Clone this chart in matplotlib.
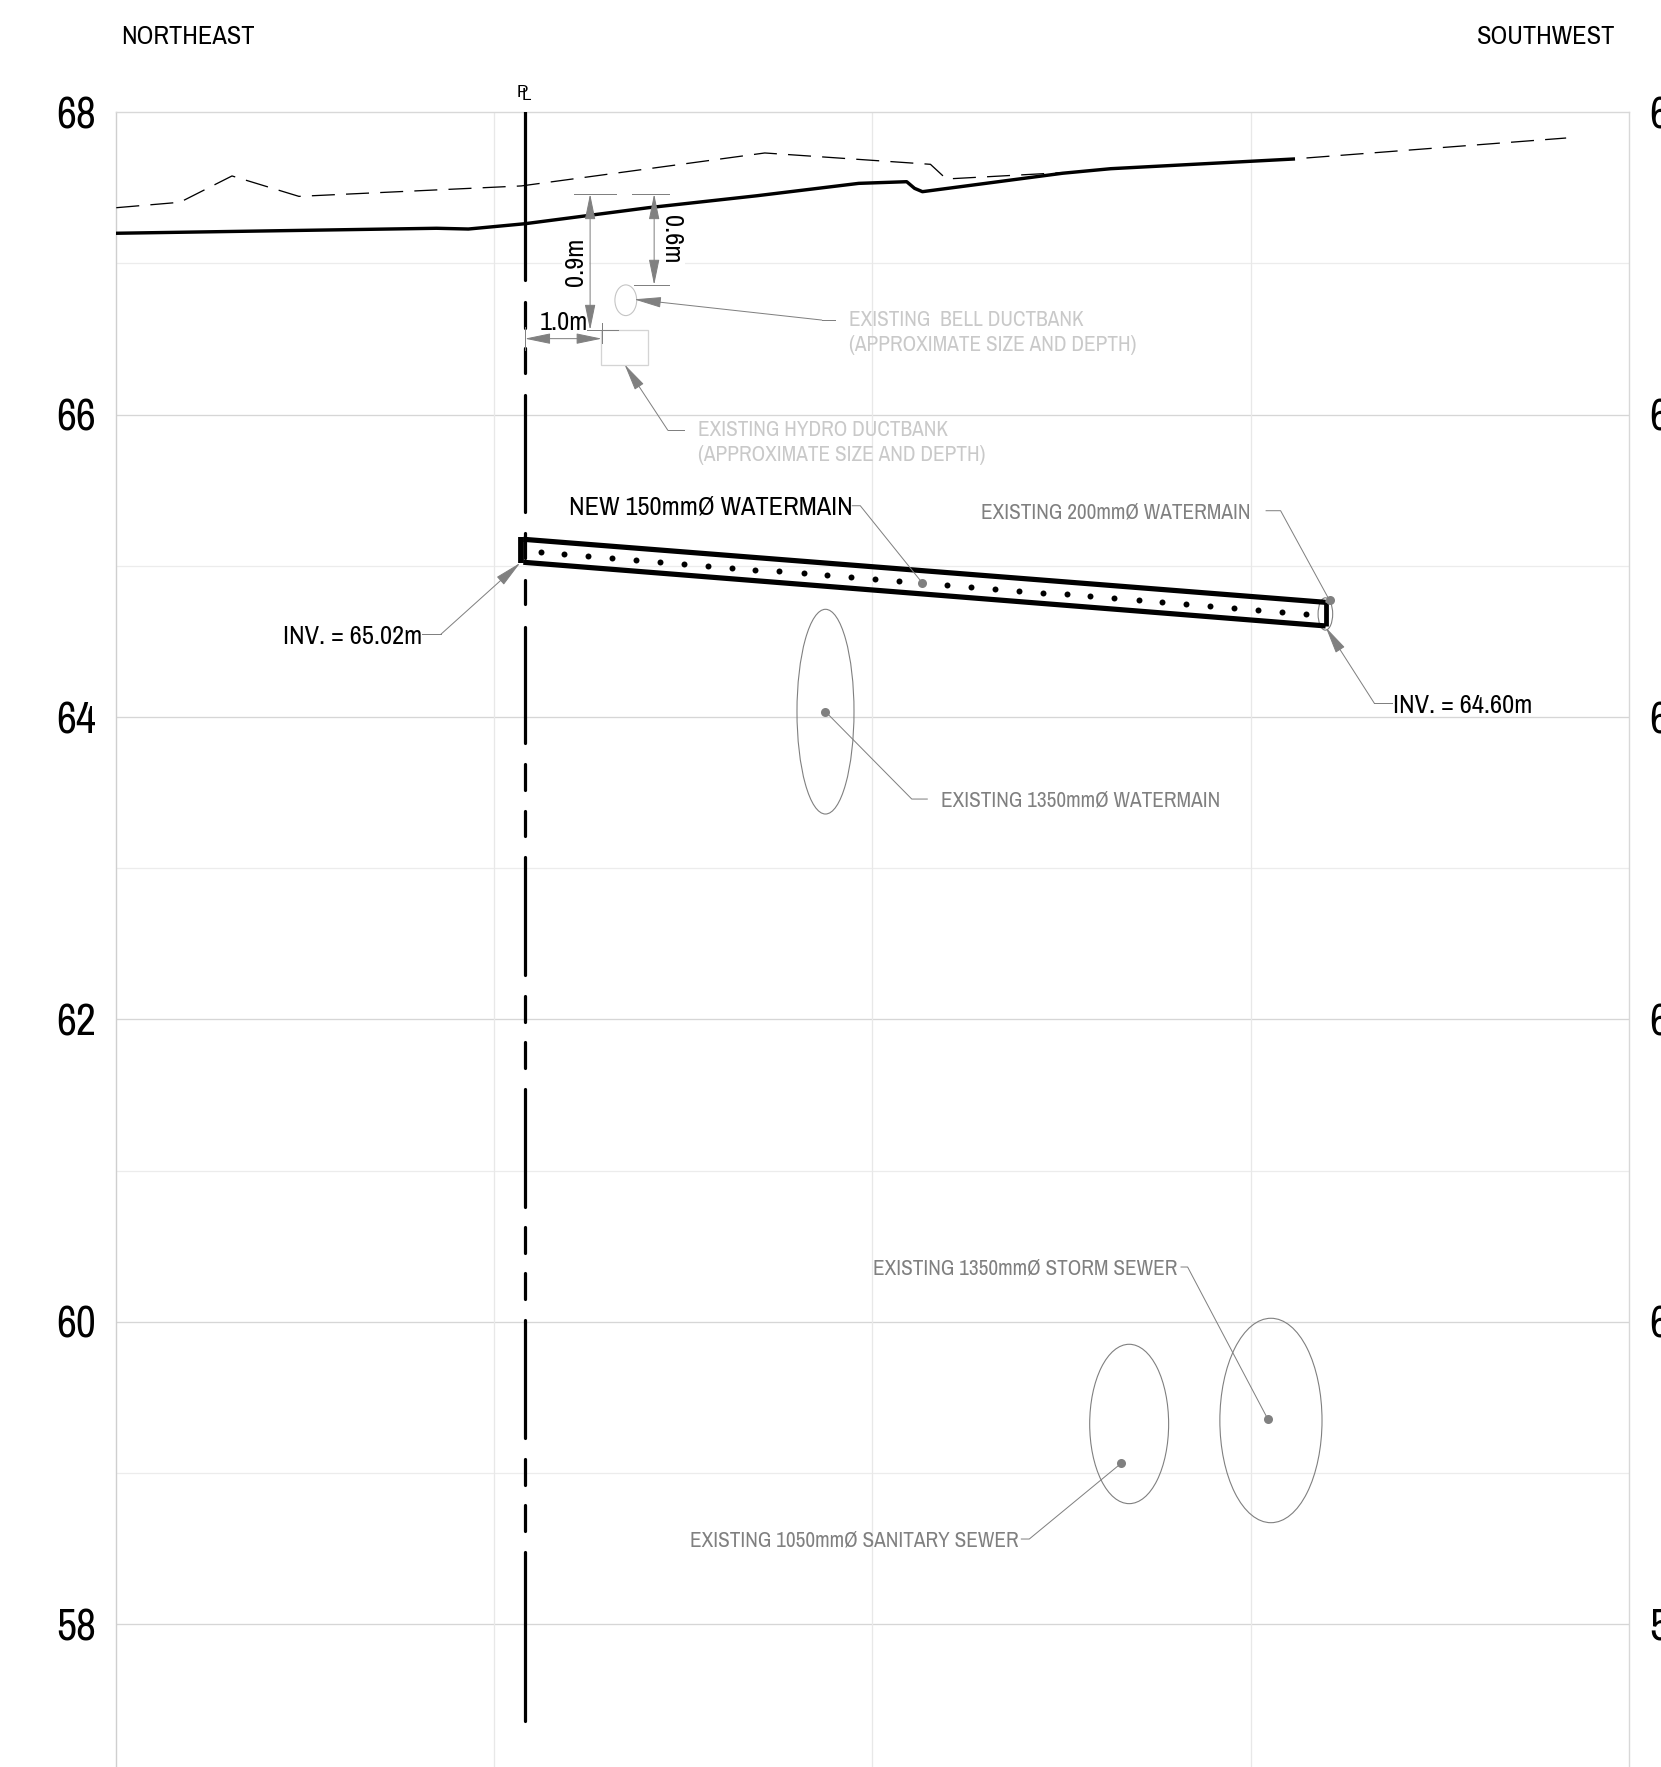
import matplotlib
matplotlib.use("Agg")
import matplotlib.pyplot as plt
from matplotlib.patches import Ellipse, Rectangle

plt.rcParams['font.family'] = ['Archivo Narrow', 'Liberation Sans', 'DejaVu Sans']

W, H, DPI = 1661, 1767, 100
px = 72 / DPI

# ---- data (station in metres, elevation in metres) ----
elev_ticks = [68, 66, 64, 62, 60, 58]
elev_minor = [67, 65, 63, 61, 59]
stations = [5, 10, 15]
PL_X = 5.403

ground_x = [0, 4.236, 4.656, 5.403, 7.036, 8.470, 9.819, 10.453, 10.557, 10.661, 12.516, 13.151, 15.566]
ground_y = [67.20, 67.233, 67.228, 67.263, 67.369, 67.448, 67.530, 67.541, 67.497, 67.475, 67.597, 67.627, 67.691]
exist_x = [0, 0.842, 1.530, 2.415, 5.356, 8.576, 10.767, 10.977, 12.516]
exist_y = [67.369, 67.405, 67.579, 67.444, 67.513, 67.731, 67.656, 67.559, 67.601]
exist_east_x = [15.74, 19.174]
exist_east_y = [67.698, 67.830]

pl_segments = [(68.015, 66.891), (66.745, 66.574), (66.441, 66.276), (66.130, 65.356),
               (65.218, 65.052), (64.907, 64.748), (64.596, 63.827), (63.688, 63.518),
               (63.379, 63.212), (63.073, 62.292), (62.155, 61.985), (61.849, 61.681),
               (61.542, 60.762), (60.626, 60.454), (60.321, 60.150), (60.013, 59.230),
               (59.094, 58.922), (58.787, 58.617), (58.478, 57.360)]

pipe_x = [5.383, 15.993]
pipe_top = [65.176, 64.759]
pipe_inv = [65.024, 64.603]
pipe_center_x = [5.61, 5.92, 6.24, 6.56, 6.87, 7.19, 7.51, 7.82, 8.14, 8.45, 8.77, 9.09, 9.40, 9.72, 10.04, 10.35,
                 10.99, 11.30, 11.62, 11.94, 12.25, 12.57, 12.88, 13.20, 13.52, 13.83, 14.15, 14.47, 14.78, 15.10,
                 15.42, 15.73]
pipe_center_y = [65.090, 65.077, 65.065, 65.052, 65.039, 65.027, 65.014, 65.001, 64.988, 64.976, 64.963, 64.950,
                 64.938, 64.925, 64.912, 64.900, 64.874, 64.862, 64.849, 64.836, 64.824, 64.811, 64.798, 64.785,
                 64.773, 64.760, 64.747, 64.735, 64.722, 64.709, 64.697, 64.684]

# existing pipes: centre x, centre y, width, height
pipes = [(9.379, 64.036, 0.754, 1.354),
         (15.99, 64.682, 0.193, 0.214),
         (15.27, 59.348, 1.351, 1.352),
         (13.395, 59.325, 1.044, 1.054)]
bell = (6.738, 66.757, 0.288, 0.203)
hydro = (6.413, 66.329, 0.617, 0.229)

# leaders ending in a dot
dot_leaders = [
    ([14.081, 14.168, 15.23], [60.363, 60.363, 59.356]),
    ([11.969, 12.074, 13.29], [58.564, 58.564, 59.065]),
    ([10.725, 10.520, 9.379], [63.458, 63.458, 64.036]),
    ([15.206, 15.398, 16.045], [65.365, 65.365, 64.772]),
    ([9.733, 9.839, 10.66], [65.398, 65.398, 64.887]),
]
# leaders ending in an arrow
arrow_leaders = [
    ([4.041, 4.293, 5.342], [64.548, 64.548, 65.02]),
    ([16.875, 16.638, 15.995], [64.091, 64.091, 64.594]),
    ([9.501, 9.330, 6.847], [66.626, 66.626, 66.763]),
    ([7.505, 7.294, 6.721], [65.897, 65.897, 66.333]),
]
dim_arrows = [((6.266, 67.46), (6.266, 66.56)),
              ((7.113, 67.46), (7.113, 66.858)),
              ((5.403, 66.503), (6.421, 66.503))]
dim_ext = [([6.056, 6.615], [67.46, 67.46]), ([6.231, 6.630], [66.558, 66.558]),
           ([6.826, 7.316], [67.46, 67.46]), ([6.840, 7.316], [66.858, 66.858]),
           ([6.421, 6.421], [66.606, 66.474]), ([5.403, 5.403], [66.58, 66.428])]

BLACK, GRAY, PALE = '#000000', '#808080', '#c9c9c9'
# text, x, y, ha, colour, size
labels = [
    ('NORTHEAST', 0.06, 68.50, 'left', BLACK, 19),
    ('SOUTHWEST', 19.83, 68.50, 'right', BLACK, 19),
    ('INV. = 65.02m', 2.20, 64.533, 'left', BLACK, 19),
    ('INV. = 64.60m', 16.888, 64.08, 'left', BLACK, 19),
    ('NEW 150mmØ WATERMAIN', 5.992, 65.391, 'left', BLACK, 19),
    ('1.0m', 5.602, 66.611, 'left', BLACK, 19),
    ('EXISTING 200mmØ WATERMAIN', 14.995, 65.35, 'right', GRAY, 15.3),
    ('EXISTING 1350mmØ WATERMAIN', 10.907, 63.451, 'left', GRAY, 15.3),
    ('EXISTING 1350mmØ STORM SEWER', 10.004, 60.356, 'left', GRAY, 15.3),
    ('EXISTING 1050mmØ SANITARY SEWER', 7.585, 58.557, 'left', GRAY, 15.3),
    ('EXISTING  BELL DUCTBANK', 9.695, 66.626, 'left', PALE, 15.3),
    ('(APPROXIMATE SIZE AND DEPTH)', 9.695, 66.46, 'left', PALE, 15.3),
    ('EXISTING HYDRO DUCTBANK', 7.69, 65.898, 'left', PALE, 15.3),
    ('(APPROXIMATE SIZE AND DEPTH)', 7.69, 65.733, 'left', PALE, 15.3),
]

# ---- figure ----
fig = plt.figure(figsize=(W / DPI, H / DPI), dpi=DPI, facecolor='white')
L, R = 116.3, 1628.6
ax = fig.add_axes([L / W, 0, (R - L) / W, (H - 112.3) / H])
ax.set_xlim(0, 20)
ax.set_ylim(68 - (H - 112.3) / 151.2, 68)

for s, c in (('left', '#cfcfcf'), ('top', '#d8d8d8'), ('right', '#d8d8d8')):
    ax.spines[s].set_color(c)
    ax.spines[s].set_linewidth(1.4 * px)
ax.spines['bottom'].set_visible(False)

ax.set_xticks([])
ax.set_yticks(elev_ticks)
ax.set_yticklabels([str(v) for v in elev_ticks], fontsize=31.5)
ax.tick_params(axis='y', length=0, pad=14.6, labelleft=True, labelright=True)

for v in elev_ticks[1:]:
    ax.axhline(v, color='#d6d6d6', lw=1.3 * px, zorder=1)
for v in elev_minor:
    ax.axhline(v, color='#ececec', lw=1.3 * px, zorder=1)
for v in stations:
    ax.axvline(v, color='#e8e8e8', lw=1.3 * px, zorder=1)

# ground profiles
ax.plot(ground_x, ground_y, color='black', lw=3.4 * px, solid_joinstyle='round', zorder=4)
ax.plot(exist_x, exist_y, color='black', lw=1.3 * px, ls=(0, (17.7, 8.6)), zorder=3)
ax.plot(exist_east_x, exist_east_y, color='black', lw=1.3 * px, ls=(0, (17.7, 8.6)), zorder=3)

# property line
for a, b in pl_segments:
    ax.plot([PL_X, PL_X], [a, b], color='black', lw=3.2 * px, solid_capstyle='round', zorder=4)
ax.text(5.30, 68.103, 'P', family='Liberation Sans', fontsize=12.5, ha='left', va='baseline')
ax.text(5.355, 68.084, 'L', family='Liberation Sans', fontsize=12.5, ha='left', va='baseline')

# new watermain
ax.plot(pipe_x, pipe_top, color='black', lw=5.2 * px, solid_capstyle='butt', zorder=5)
ax.plot(pipe_x, pipe_inv, color='black', lw=5.2 * px, solid_capstyle='butt', zorder=5)
ax.plot([5.35, 5.35], [65.193, 65.019], color='black', lw=5.8 * px, solid_capstyle='butt', zorder=5)
ax.plot([pipe_x[1], pipe_x[1]], [pipe_top[1], pipe_inv[1]], color='black', lw=4.8 * px,
        solid_capstyle='butt', zorder=5)
ax.plot(pipe_center_x, pipe_center_y, ls='none', marker='o', ms=4.3, mfc='black', mec='none', zorder=5)

# existing pipes and ductbanks
for cx, cy, w, h in pipes:
    ax.add_patch(Ellipse((cx, cy), w, h, fill=False, ec='#7f7f7f', lw=1.1 * px, zorder=4))
ax.add_patch(Ellipse(bell[:2], bell[2], bell[3], fill=False, ec='#c4c4c4', lw=1.1 * px, zorder=4))
ax.add_patch(Rectangle(hydro[:2], hydro[2], hydro[3], fill=False, ec='#d4d4d4', lw=1.3 * px, zorder=4))

# leaders
for xs, ys in dot_leaders:
    ax.plot(xs, ys, color=GRAY, lw=1.0 * px, zorder=6)
    ax.plot(xs[-1], ys[-1], ls='none', marker='o', ms=6.5, mfc=GRAY, mec='none', zorder=6)
arrow_style = '-|>,head_length=17,head_width=3.3'
both_style = '<|-|>,head_length=16,head_width=3.3'
for xs, ys in arrow_leaders:
    ax.plot(xs[:2], ys[:2], color=GRAY, lw=1.0 * px, zorder=6)
    ax.annotate('', xy=(xs[2], ys[2]), xytext=(xs[1], ys[1]),
                arrowprops=dict(arrowstyle=arrow_style, mutation_scale=1, color=GRAY, lw=1.0 * px,
                                shrinkA=0, shrinkB=0), zorder=6)
for p, q in dim_arrows:
    ax.annotate('', xy=q, xytext=p,
                arrowprops=dict(arrowstyle=both_style, mutation_scale=1, color=GRAY, lw=1.0 * px,
                                shrinkA=0, shrinkB=0), zorder=6)
for xs, ys in dim_ext:
    ax.plot(xs, ys, color=GRAY, lw=1.0 * px, zorder=6)

# text
for t, x, y, ha, c, fs in labels:
    ax.text(x, y, t, ha=ha, va='center', color=c, fontsize=fs, zorder=7)
box = dict(facecolor='white', edgecolor='none', pad=1.5)
ax.text(6.07, 67.012, '0.9m', rotation=90, ha='center', va='center', fontsize=19, bbox=box, zorder=3)
ax.text(7.341, 67.162, '0.6m', rotation=270, ha='center', va='center', fontsize=19, bbox=box, zorder=3)

fig.savefig('out.png', dpi=DPI, facecolor='white')
